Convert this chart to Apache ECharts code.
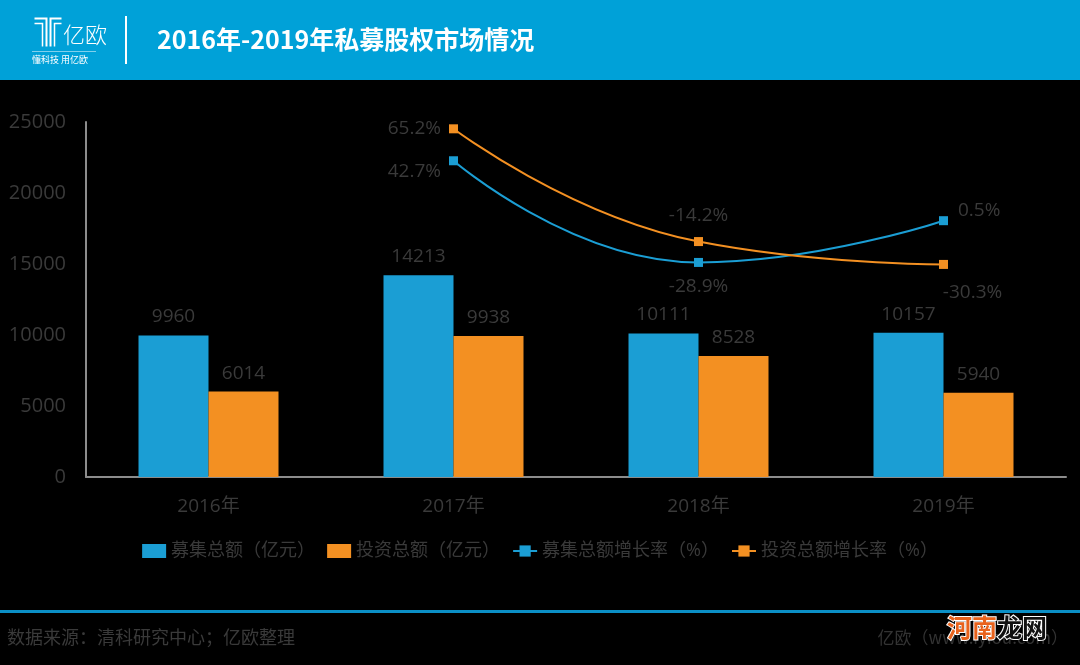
<!DOCTYPE html>
<html><head><meta charset="utf-8">
<script src="https://cdn.jsdelivr.net/npm/echarts@6/dist/echarts.min.js"></script>
<style>html,body{margin:0;padding:0;background:#000;}#c{width:1080px;height:665px;}</style>
</head><body><div id="c"></div>
<script>
const categories = ['2016年','2017年','2018年','2019年'];
const raised = [9960, 14213, 10111, 10157];
const invested = [6014, 9938, 8528, 5940];
const raisedGrowth = [null, 42.7, -28.9, 0.5];
const investedGrowth = [null, 65.2, -14.2, -30.3];
const yTicks = [0, 5000, 10000, 15000, 20000, 25000];

const BLUE = '#1b9ed4', ORANGE = '#f39022', TXT = '#3a3a3a';
const FONT = '"Open Sans","Noto Sans CJK SC",sans-serif';

const chart = echarts.init(document.getElementById('c'));

function lbl(pos, extra) { return Object.assign({show:true, position:pos, color:TXT, fontSize:19, fontFamily:FONT, formatter:'{c}%'}, extra||{}); }

const blueLabels = [{}, lbl('left',{offset:[0,11],distance:8}), lbl('bottom',{distance:10}), lbl('right',{offset:[0,-10],distance:10})];
const orangeLabels = [{}, lbl('left',{distance:8}), lbl('top',{distance:12}), lbl('bottom',{offset:[29,0],distance:14})];

chart.setOption({
  backgroundColor:'#000',
  animation:false,
  grid:{left:86, right:14, top:122, bottom:188, containLabel:false},
  legend:{
    bottom:100, left:'center', itemGap:12, itemWidth:24, itemHeight:14,
    textStyle:{color:TXT, fontSize:18, fontFamily:FONT},
    data:[
      {name:'募集总额（亿元）', icon:'rect'},
      {name:'投资总额（亿元）', icon:'rect'},
      {name:'募集总额增长率（%）'},
      {name:'投资总额增长率（%）'}
    ]
  },
  xAxis:{type:'category', data:categories,
    axisLine:{lineStyle:{color:'#8c8c8c', width:2}}, axisTick:{show:false},
    axisLabel:{color:TXT, fontSize:19, fontFamily:FONT, margin:20}},
  yAxis:[
    {type:'value', min:yTicks[0], max:yTicks[yTicks.length-1], interval:5000,
     axisLine:{show:true, lineStyle:{color:'#8c8c8c', width:2}}, axisTick:{show:false}, splitLine:{show:false},
     axisLabel:{color:TXT, fontSize:20, fontFamily:FONT, margin:20, formatter:v=>String(v)}},
    {type:'value', min:-180, max:70, show:false, splitLine:{show:false}}
  ],
  series:[
    {name:'募集总额（亿元）', type:'bar', data:raised, barWidth:70, barGap:'0%', itemStyle:{color:BLUE},
     label:{show:true, position:'top', color:TXT, fontSize:19, fontFamily:FONT, distance:9}},
    {name:'投资总额（亿元）', type:'bar', data:invested, barWidth:70, itemStyle:{color:ORANGE},
     label:{show:true, position:'top', color:TXT, fontSize:19, fontFamily:FONT, distance:9}},
    {name:'募集总额增长率（%）', type:'line', yAxisIndex:1, smooth:true, symbol:'rect', symbolSize:9,
     lineStyle:{color:BLUE, width:2}, itemStyle:{color:BLUE},
     data:raisedGrowth.map((v,i)=>({value:v, label:blueLabels[i]}))},
    {name:'投资总额增长率（%）', type:'line', yAxisIndex:1, smooth:true, symbol:'rect', symbolSize:9,
     lineStyle:{color:ORANGE, width:2}, itemStyle:{color:ORANGE},
     data:investedGrowth.map((v,i)=>({value:v, label:orangeLabels[i]}))}
  ],
  graphic:[
    {type:'rect', left:0, top:0, shape:{width:1080, height:80}, style:{fill:'#00a1d8'}, z:-1},
    {type:'group', left:32, top:16, children:[
      {type:'polyline', shape:{points:[[0,2],[12,2],[12,30]]}, style:{stroke:'#fff', lineWidth:2, fill:null}},
      {type:'polyline', shape:{points:[[0,7],[8,7],[8,30]]}, style:{stroke:'#fff', lineWidth:1.5, fill:null}},
      {type:'polyline', shape:{points:[[27,2],[16,2],[16,30]]}, style:{stroke:'#fff', lineWidth:2, fill:null}},
      {type:'polyline', shape:{points:[[27,7],[20,7],[20,30]]}, style:{stroke:'#fff', lineWidth:1.5, fill:null}}
    ]},
    {type:'text', left:63, top:24, style:{text:'亿欧', fill:'#fff', font:'300 22px "Noto Sans CJK SC"'}},
    {type:'rect', left:32, top:51, shape:{width:64, height:1}, style:{fill:'rgba(255,255,255,0.5)'}},
    {type:'text', left:32, top:55, style:{text:'懂科技 用亿欧', fill:'#fff', font:'9px "Noto Sans CJK SC"'}},
    {type:'rect', left:125, top:16, shape:{width:2, height:48}, style:{fill:'#fff'}},
    {type:'text', left:157, top:27, style:{text:'2016年-2019年私募股权市场情况', fill:'#fff', font:'bold 25px "Noto Sans CJK SC"'}},
    {type:'rect', left:0, top:610, shape:{width:1080, height:3}, style:{fill:'#0b8fc6'}},
    {type:'text', left:7, top:628, style:{text:'数据来源：清科研究中心；亿欧整理', fill:TXT, font:'18px "Noto Sans CJK SC"'}},
    {type:'text', right:12, top:629, style:{text:'亿欧（www.iyiou.com）', fill:'#333', font:'17px "Noto Sans CJK SC"'}},
    {type:'text', left:946, top:614, z:10, style:{text:'河南', fill:'#e8621c', stroke:'#fff', lineWidth:2, font:'bold 25px "Noto Sans CJK SC"'}},
    {type:'text', left:996, top:614, z:10, style:{text:'龙网', fill:'#111', stroke:'#fff', lineWidth:2, font:'bold 25px "Noto Sans CJK SC"'}}
  ]
});
</script></body></html>
